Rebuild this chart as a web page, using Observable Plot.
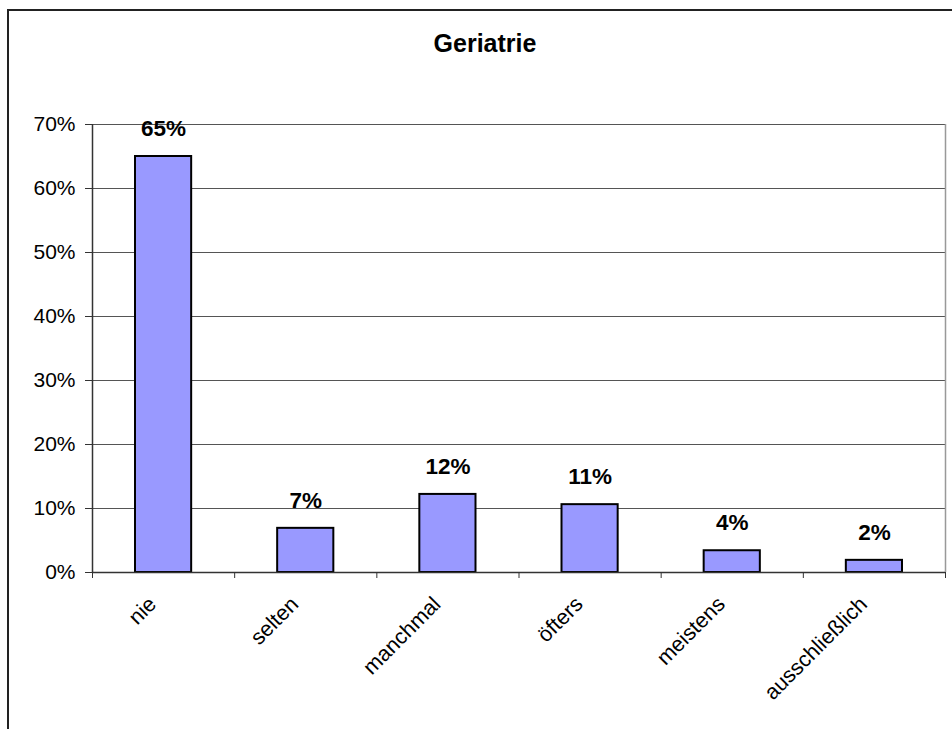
<!DOCTYPE html>
<html><head><meta charset="utf-8">
<script src="https://cdn.jsdelivr.net/npm/d3@7"></script>
<script src="https://cdn.jsdelivr.net/npm/@observablehq/plot@0.6"></script>
<style>
body{margin:0;background:#fff;}
#wrap{position:relative;width:952px;height:729px;overflow:hidden;font-family:"Liberation Sans",Arial,sans-serif;}
#chart{position:absolute;left:0;top:0;}
#frame{position:absolute;left:7px;top:9px;width:980px;height:760px;border-left:2px solid #222;border-top:2px solid #222;}
#title{position:absolute;left:0;width:970px;top:31px;line-height:1;text-align:center;font-weight:bold;font-size:25px;color:#000;}
</style></head><body>
<div id="wrap"><div id="chart"></div><div id="frame"></div><div id="title">Geriatrie</div></div>
<script>
const categories = ["nie", "selten", "manchmal", "öfters", "meistens", "ausschließlich"];
const values = [0.65, 0.069, 0.122, 0.106, 0.034, 0.019];
const valueLabels = ["65%", "7%", "12%", "11%", "4%", "2%"];
const yTicks = [0, 0.1, 0.2, 0.3, 0.4, 0.5, 0.6, 0.7];
const yTickLabels = ["0%", "10%", "20%", "30%", "40%", "50%", "60%", "70%"];

const data = categories.map((c, i) => ({i, category: c, value: values[i], label: valueLabels[i]}));
const bounds = d3.range(categories.length + 1);

const chart = Plot.plot({
  width: 952,
  height: 729,
  marginLeft: 92,
  marginRight: 7,
  marginTop: 124,
  marginBottom: 157,
  style: {background: "transparent", fontFamily: "'Liberation Sans', Arial, sans-serif", color: "#000"},
  x: {domain: [0, categories.length]},
  y: {domain: [0, 0.7]},
  marks: [
    Plot.ruleY(yTicks.slice(1), {stroke: "#555", strokeWidth: 1}),
    Plot.rectY(data, {x1: d => d.i, x2: d => d.i + 1, y1: 0, y2: d => d.value, insetLeft: 43, insetRight: 43, fill: "#9999ff", stroke: "#000", strokeWidth: 2}),
    Plot.ruleX([categories.length], {stroke: "#999", strokeWidth: 1.5}),
    Plot.ruleX([0], {stroke: "#333", strokeWidth: 1.5}),
    Plot.ruleY([0], {stroke: "#333", strokeWidth: 1.5}),
    Plot.axisY({ticks: yTicks, tickFormat: d => yTickLabels[yTicks.indexOf(d)], tickSize: 7, tickPadding: 10, fontSize: 21, stroke: "#333", label: null}),
    Plot.axisX({ticks: bounds, tickFormat: () => "", tickSize: 6, stroke: "#333", label: null}),
    Plot.text(data, {x: d => d.i + 0.5, y: d => d.value, text: d => d.label, dy: -28, fontSize: 22.5, fontWeight: "bold", fill: "#000"}),
    Plot.text(data, {x: d => d.i + 0.5, frameAnchor: "bottom", text: d => d.category, rotate: -45, textAnchor: "end", dx: -6, dy: 33, fontSize: 21.5, fill: "#000"})
  ]
});
document.getElementById("chart").appendChild(chart);
</script>
</body></html>
